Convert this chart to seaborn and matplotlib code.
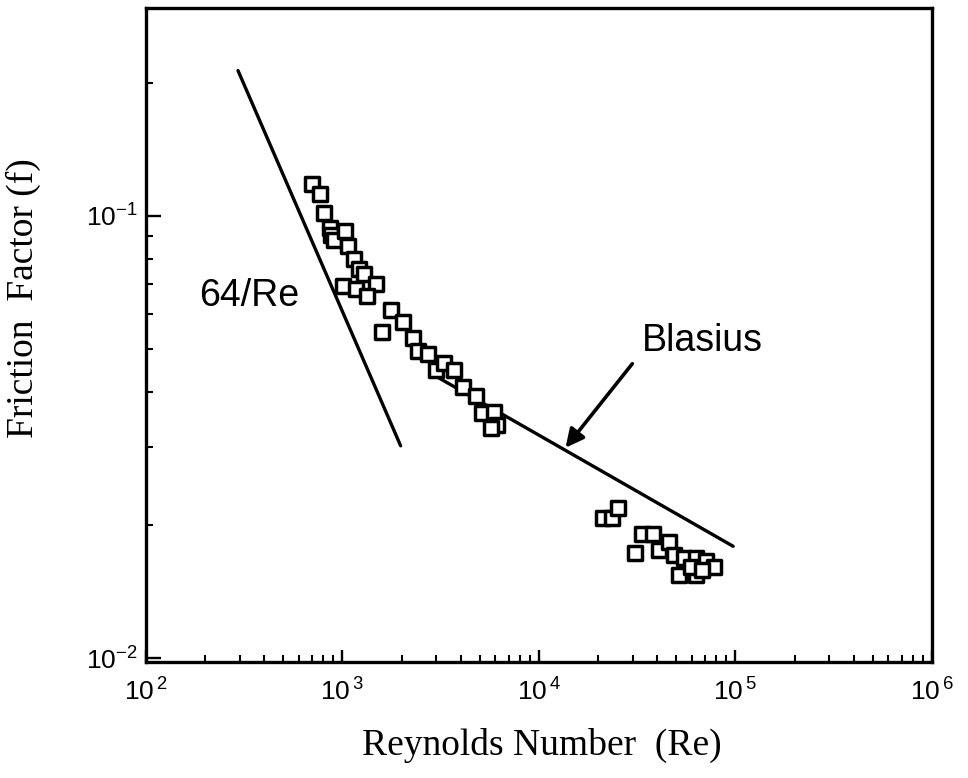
import math
import matplotlib
matplotlib.use("Agg")
import matplotlib.pyplot as plt
import seaborn as sns
import pandas as pd
from matplotlib.ticker import LogLocator, NullFormatter, FuncFormatter

# ---- data ----
re_data = [700, 764, 809, 859, 875, 910, 1030, 1064, 1150, 1219, 1293, 1481,
           1003, 1172, 1333, 1765, 1583, 2036, 2275, 2413, 2728, 2979, 3297,
           3707, 4110, 4754, 5131, 5917, 6083, 5689,
           21280, 23440, 25270, 30690, 33300, 38190, 40830, 45900, 48650,
           54700, 51580, 62650, 62650, 70450, 77680, 59110, 67760]
f_data = [0.118, 0.112, 0.1017, 0.0938, 0.0907, 0.0884, 0.0922, 0.0853, 0.0797,
          0.0757, 0.0738, 0.0700, 0.0694, 0.0682, 0.0659, 0.0614, 0.0546,
          0.0575, 0.0529, 0.0496, 0.0487, 0.0448, 0.0465, 0.0448, 0.0411,
          0.0391, 0.0359, 0.0361, 0.0337, 0.0331,
          0.0207, 0.0207, 0.0219, 0.0173, 0.0191, 0.0191, 0.0176, 0.0183,
          0.0171, 0.0168, 0.0154, 0.0168, 0.0154, 0.0166, 0.0161, 0.0161, 0.0158]

laminar_re = [294, 1977]
laminar_f = [0.213, 0.0302]
blasius_re = [2930, 97300]
blasius_f = [0.0436, 0.0179]

x_limits = [1e2, 1e6]
y_limits = [0.0098, 0.295]

x_label = "Reynolds Number  (Re)"
y_label = "Friction  Factor (f)"
label_laminar = "64/Re"
label_blasius = "Blasius"

# ---- plot ----
sns.set_style("white")
plt.rcParams['font.family'] = ['Liberation Sans', 'DejaVu Sans']
plt.rcParams['mathtext.fontset'] = 'custom'
plt.rcParams['mathtext.rm'] = 'Liberation Sans'
plt.rcParams['axes.unicode_minus'] = False
plt.rcParams['text.color'] = 'black'
plt.rcParams['axes.labelcolor'] = 'black'
plt.rcParams['xtick.color'] = 'black'
plt.rcParams['ytick.color'] = 'black'

fig = plt.figure(figsize=(9.68, 7.78), dpi=100)
ax = fig.add_axes([0.1508, 0.1491, 0.8120, 0.8406])

pts = pd.DataFrame({"Re": re_data, "f": f_data})
lam = pd.DataFrame({"Re": laminar_re, "f": laminar_f})
bla = pd.DataFrame({"Re": blasius_re, "f": blasius_f})

sns.lineplot(data=lam, x="Re", y="f", ax=ax, color="black", lw=2.4, sort=False)
sns.lineplot(data=bla, x="Re", y="f", ax=ax, color="black", lw=2.4, sort=False)
sns.scatterplot(data=pts, x="Re", y="f", ax=ax, marker="s", s=105,
                facecolor="white", edgecolor="black", linewidth=2.5, zorder=3)

ax.set_xscale("log")
ax.set_yscale("log")
ax.set_xlim(*x_limits)
ax.set_ylim(*y_limits)

ax.xaxis.set_major_locator(LogLocator(base=10, numticks=10))
ax.xaxis.set_minor_locator(LogLocator(base=10, subs=range(2, 10), numticks=20))
ax.yaxis.set_major_locator(LogLocator(base=10, numticks=10))
ax.yaxis.set_minor_locator(LogLocator(base=10, subs=range(2, 10), numticks=20))
ax.xaxis.set_minor_formatter(NullFormatter())
ax.yaxis.set_minor_formatter(NullFormatter())
ax.xaxis.set_major_formatter(FuncFormatter(
    lambda v, p: r'$\mathdefault{10^{\,%d}}$' % round(math.log10(v))))
ax.yaxis.set_major_formatter(FuncFormatter(
    lambda v, p: r'$\mathdefault{10^{%d}}$' % round(math.log10(v))))

for s in ax.spines.values():
    s.set_linewidth(2.4)
    s.set_color("black")
    s.set_visible(True)

ax.tick_params(axis="both", which="major", direction="in", width=1.7,
               labelsize=19, top=False, right=False, bottom=True, left=True)
ax.tick_params(axis="x", which="major", length=8.5, pad=12)
ax.tick_params(axis="y", which="major", length=11, pad=6)
ax.tick_params(axis="both", which="minor", direction="in", length=5, width=1.5,
               top=False, right=False, bottom=True, left=True)

ax.set_xlabel(x_label, family="Liberation Serif", fontsize=27)
ax.set_ylabel(y_label, family="Liberation Serif", fontsize=27)
ax.xaxis.set_label_coords(0.503, -0.100)
ax.yaxis.set_label_coords(-0.133, 0.557)

ax.text(334, 0.0658, label_laminar, fontsize=27, ha="center", va="center")
ax.text(67760, 0.0522, label_blasius, fontsize=27, ha="center", va="center")
ax.annotate("", xy=(13650, 0.0299), xytext=(29850, 0.0463),
            arrowprops=dict(arrowstyle="-|>,head_length=1.1,head_width=0.55",
                            color="black", lw=2.6, shrinkA=0, shrinkB=0))

ax.grid(False)
fig.savefig("out.png", dpi=100)
